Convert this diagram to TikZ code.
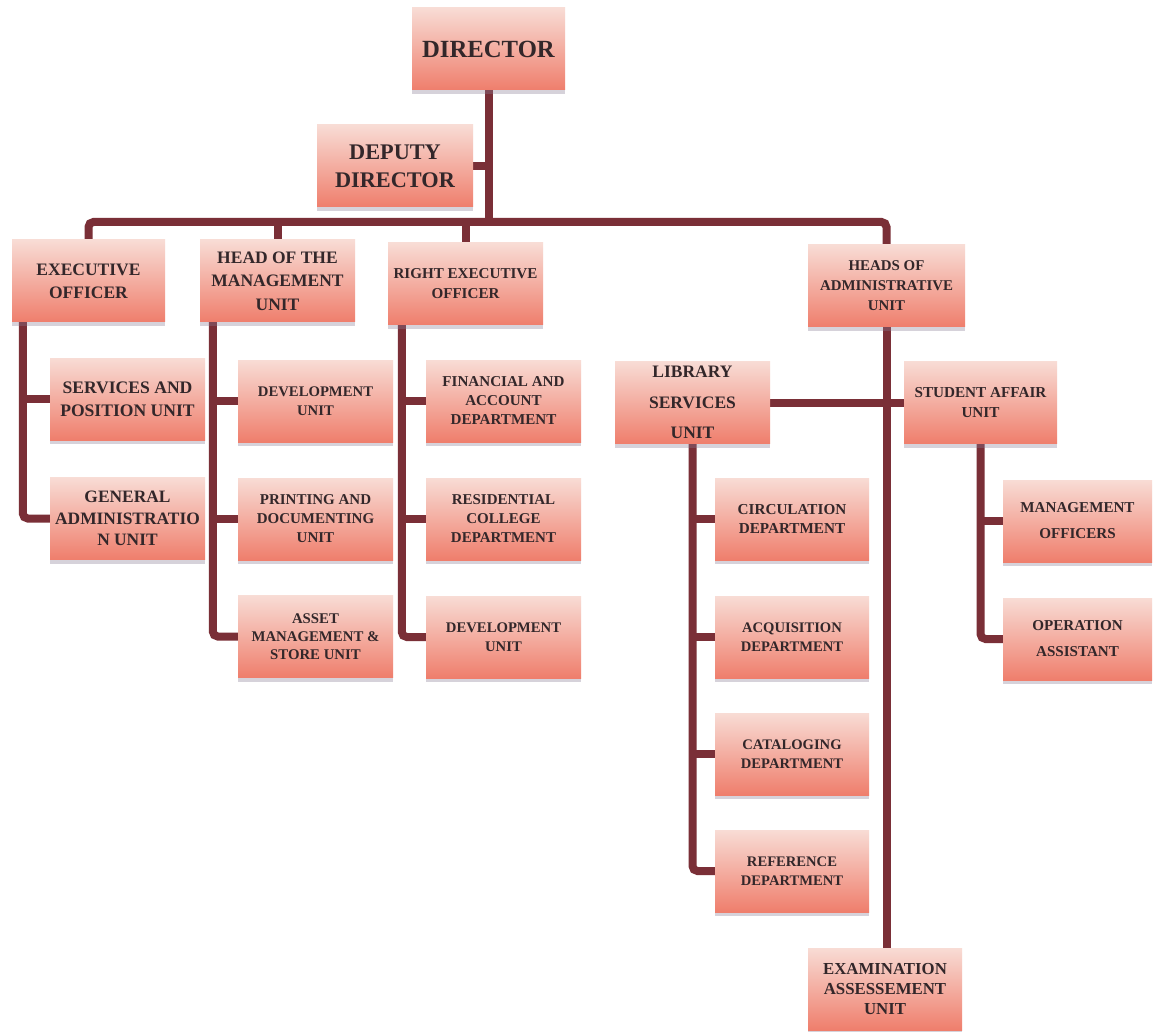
\documentclass[tikz,border=0pt]{standalone}
\usepackage{fontspec}
\setmainfont{Liberation Serif}
\usetikzlibrary{shadows,backgrounds}
\definecolor{lineC}{HTML}{7A2F37}
\definecolor{boxTop}{HTML}{F8DCD5}
\definecolor{boxBot}{HTML}{EF7E6C}
\definecolor{txtC}{HTML}{33272A}
\definecolor{shadC}{HTML}{8A7F95}
\newcommand\myfs[2]{\fontsize{#1}{#2}\selectfont\bfseries}
\begin{document}
\begin{tikzpicture}[x=1pt,y=-1pt,
  box/.style={rectangle, top color=boxTop, bottom color=boxBot, draw=none,
    text=txtC, align=center, inner sep=1pt,
    minimum width=155pt, minimum height=82pt,
    drop shadow={shadow xshift=0pt, shadow yshift=-4pt, fill=shadC, opacity=0.35}},
  conn/.style={draw=lineC, line width=8pt, rounded corners=5pt}]
\useasboundingbox (0,0) rectangle (1154,1032);

% top
\node[box, minimum width=153pt, font=\myfs{24.7}{28}] (dir) at (488.5,49) {DIRECTOR};
\node[box, minimum width=156pt, font=\myfs{22.3}{28}] (dep) at (395,166) {DEPUTY\\DIRECTOR};

% level 2
\node[box, minimum width=153pt, font=\myfs{17.5}{23}] (exo) at (88.5,281) {EXECUTIVE\\OFFICER};
\node[box, font=\myfs{17.5}{23.5}] (hmu) at (277.5,281) {HEAD OF THE\\MANAGEMENT\\UNIT};
\node[box, font=\myfs{15.1}{20}] (reo) at (465.5,284) {RIGHT EXECUTIVE\\OFFICER};
\node[box, minimum width=157pt, font=\myfs{14.9}{20}] (hau) at (886.5,286) {HEADS OF\\ADMINISTRATIVE\\UNIT};

% executive officer column
\node[box, font=\myfs{17.6}{23}] (spu) at (127.5,399) {SERVICES AND\\POSITION UNIT};
\node[box, font=\myfs{17.4}{21.5}] (gau) at (127.5,518.5) {GENERAL\\ADMINISTRATIO\\N UNIT};

% head of management column
\node[box, font=\myfs{14.7}{19}] (dev1) at (315.5,401) {DEVELOPMENT\\UNIT};
\node[box, font=\myfs{15}{19}] (pdu) at (315.5,519) {PRINTING AND\\DOCUMENTING\\UNIT};
\node[box, font=\myfs{14.8}{18}] (amu) at (315.5,636.5) {ASSET\\MANAGEMENT \&\\STORE UNIT};

% right executive column
\node[box, font=\myfs{15.1}{19}] (fad) at (503.5,401) {FINANCIAL AND\\ACCOUNT\\DEPARTMENT};
\node[box, font=\myfs{15}{19}] (rcd) at (503.5,519) {RESIDENTIAL\\COLLEGE\\DEPARTMENT};
\node[box, font=\myfs{14.7}{18.5}] (dev2) at (503.5,637) {DEVELOPMENT\\UNIT};

% administrative side
\node[box, font=\myfs{17.5}{30.5}] (lsu) at (692.5,402.5) {LIBRARY\\SERVICES\\UNIT};
\node[box, minimum width=153pt, font=\myfs{15.2}{20}] (sau) at (980.5,402.5) {STUDENT AFFAIR\\UNIT};

\node[box, minimum width=154pt, font=\myfs{15.2}{19}] (cir) at (792,519) {CIRCULATION\\DEPARTMENT};
\node[box, minimum width=154pt, font=\myfs{14.6}{19}] (acq) at (792,637) {ACQUISITION\\DEPARTMENT};
\node[box, minimum width=154pt, font=\myfs{14.6}{19}] (cat) at (792,754) {CATALOGING\\DEPARTMENT};
\node[box, minimum width=154pt, font=\myfs{14.6}{19}] (ref) at (792,871) {REFERENCE\\DEPARTMENT};

\node[box, minimum width=149pt, font=\myfs{15.1}{26}] (mgo) at (1077.5,521) {MANAGEMENT\\OFFICERS};
\node[box, minimum width=149pt, font=\myfs{15.1}{26}] (opa) at (1077.5,639) {OPERATION\\ASSISTANT};

\node[box, minimum width=154pt, font=\myfs{16.8}{20}] (exa) at (885,989) {EXAMINATION\\ASSESSEMENT\\UNIT};

\begin{scope}[on background layer]
\fill[white] (0,0) rectangle (1154,1032);
\coordinate (bus) at (488.5,222);
\draw[conn] (dir.south) -- (bus);
\draw[conn] (dep.east) -- (dep.east -| dir.south);
\draw[conn] (exo.north) |- (bus) -| (hau.north);
\draw[conn] (hmu.north) -- (hmu.north |- bus);
\draw[conn] (reo.north) -- (reo.north |- bus);

\coordinate (exoL) at ([xshift=11pt]exo.south west);
\draw[conn] (exoL) |- (gau.west);
\draw[conn] (exoL |- spu.west) -- (spu.west);

\coordinate (hmuL) at ([xshift=13pt]hmu.south west);
\draw[conn] (hmuL) |- (amu.west);
\draw[conn] (hmuL |- dev1.west) -- (dev1.west);
\draw[conn] (hmuL |- pdu.west) -- (pdu.west);

\coordinate (reoL) at ([xshift=14pt]reo.south west);
\draw[conn] (reoL) |- (dev2.west);
\draw[conn] (reoL |- fad.west) -- (fad.west);
\draw[conn] (reoL |- rcd.west) -- (rcd.west);

\draw[conn] (hau.south) -- (hau.south |- exa.north);
\draw[conn] (lsu.east) -- (sau.west);

\draw[conn] (lsu.south) |- (ref.west);
\draw[conn] (lsu.south |- cir.west) -- (cir.west);
\draw[conn] (lsu.south |- acq.west) -- (acq.west);
\draw[conn] (lsu.south |- cat.west) -- (cat.west);

\draw[conn] (sau.south) |- (opa.west);
\draw[conn] (sau.south |- mgo.west) -- (mgo.west);
\end{scope}
\end{tikzpicture}
\end{document}
